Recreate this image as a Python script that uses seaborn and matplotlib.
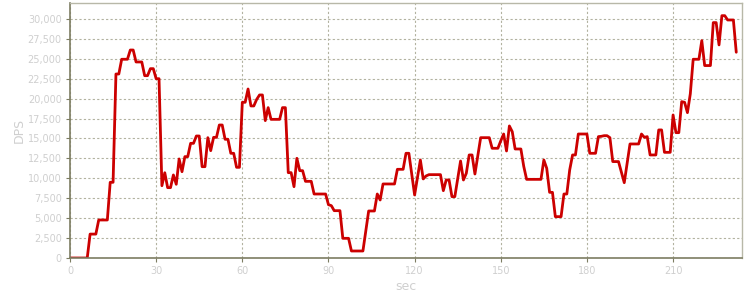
import matplotlib
matplotlib.use("Agg")
import matplotlib.pyplot as plt
import matplotlib.ticker as mticker
import seaborn as sns
import pandas as pd

# DPS per second (seconds 0..232)
dps = [
    0, 0, 0, 0, 0, 0, 0, 3000, 3000, 3000,
    4770, 4770, 4770, 4770, 9500, 9500, 23090, 23090, 24940, 24940,
    24940, 26100, 26100, 24600, 24600, 24600, 22880, 22880, 23760, 23760,
    22500, 22500, 9070, 10700, 8830, 8830, 10420, 9250, 12430, 10830,
    12720, 12720, 14390, 14390, 15310, 15310, 11460, 11460, 15100, 13470,
    15140, 15140, 16690, 16690, 14900, 14900, 13140, 13140, 11380, 11380,
    19540, 19540, 21210, 19080, 19080, 19900, 20460, 20460, 17240, 18870,
    17400, 17400, 17400, 17400, 18870, 18870, 10710, 10710, 8950, 12510,
    10960, 10960, 9620, 9620, 9620, 8030, 8030, 8030, 8030, 8030,
    6690, 6570, 5940, 5940, 5940, 2470, 2470, 2470, 880, 880,
    880, 880, 880, 3400, 5900, 5900, 5900, 8030, 7280, 9290,
    9290, 9290, 9290, 9290, 11130, 11130, 11130, 13140, 13140, 10500,
    7910, 10100, 12300, 9920, 10300, 10460, 10460, 10460, 10460, 10460,
    8450, 9790, 9790, 7700, 7700, 9900, 12170, 9790, 10630, 12930,
    12930, 10540, 12800, 15100, 15100, 15100, 15100, 13770, 13770, 13770,
    14700, 15560, 13430, 16570, 15850, 13680, 13680, 13680, 11500, 9870,
    9870, 9870, 9870, 9870, 9870, 12300, 11260, 8240, 8240, 5190,
    5190, 5190, 8030, 8030, 11050, 12930, 12930, 15560, 15560, 15560,
    15560, 13140, 13140, 13140, 15230, 15270, 15350, 15350, 15100, 12100,
    12100, 12100, 10800, 9450, 11900, 14310, 14310, 14310, 14310, 15560,
    15140, 15230, 12930, 12930, 12930, 16070, 16070, 13260, 13260, 13260,
    17950, 15730, 15730, 19620, 19540, 18240, 20600, 24940, 24940, 24940,
    27280, 24150, 24150, 24150, 29540, 29540, 26740, 30410, 30410, 29870,
    29870, 29870, 25820,
]
sec = list(range(len(dps)))

y_ticks = [0, 2500, 5000, 7500, 10000, 12500, 15000, 17500, 20000, 22500, 25000, 27500, 30000]
x_ticks = [0, 30, 60, 90, 120, 150, 180, 210]

df = pd.DataFrame({"sec": sec, "DPS": dps})

sns.set_style("white")
plt.rcParams["font.family"] = ["DejaVu Sans"]

fig = plt.figure(figsize=(7.5, 3.0), dpi=100)
ax = fig.add_axes([70 / 750, 1 - 258 / 300, 672 / 750, 255 / 300])

sns.lineplot(data=df, x="sec", y="DPS", ax=ax, color="#cc0000", linewidth=2.0)

ax.set_xlim(0, 234)
ax.set_ylim(0, 32000)
ax.set_xticks(x_ticks)
ax.set_yticks(y_ticks)
ax.yaxis.set_major_formatter(mticker.FuncFormatter(lambda v, p: f"{int(v):,}"))

grid_col = "#b2b2a0"
ax.grid(True, color=grid_col, linestyle=(0, (2, 2)), linewidth=0.8)
ax.set_axisbelow(True)

for side in ["left", "bottom"]:
    ax.spines[side].set_color("#7d7d62")
    ax.spines[side].set_linewidth(1.2)
for side in ["top", "right"]:
    ax.spines[side].set_color("#b8b8a8")
    ax.spines[side].set_linewidth(1.0)

lab_col = "#cfcfcf"
ax.tick_params(axis="both", which="major", length=3, width=0.8, color="#7d7d62",
               labelcolor=lab_col, labelsize=7, pad=3, direction="out")
ax.tick_params(left=True, bottom=True)
ax.set_xlabel("sec", color=lab_col, fontsize=9, labelpad=3)
ax.set_ylabel("DPS", color=lab_col, fontsize=9, labelpad=1.5)

fig.savefig("out.png", dpi=100, facecolor="white")
